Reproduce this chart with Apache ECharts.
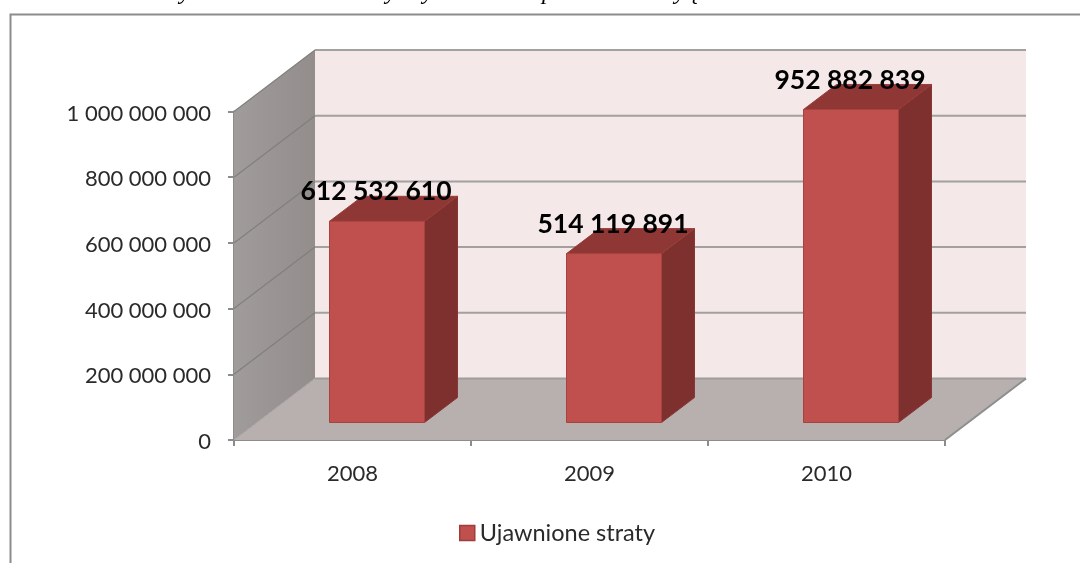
<!DOCTYPE html>
<html><head><meta charset="utf-8">
<style>html,body{margin:0;padding:0;background:#fff;overflow:hidden}#c{width:1080px;height:563px}</style>
<script src="https://cdn.jsdelivr.net/npm/echarts@6/dist/echarts.min.js"></script>
</head><body><div id="c"></div>
<script>
const years = ['2008', '2009', '2010'];
const losses = [612532610, 514119891, 952882839];
const yTicks = [0, 200000000, 400000000, 600000000, 800000000, 1000000000];
const seriesName = 'Ujawnione straty';
const cutOffGlyphs = [['y', 185], ['y', 391], ['y', 428], ['p', 548], ['y', 680], ['ę', 694]];

const FONT = 'Lato, "Open Sans", sans-serif';
const WALL = {dx: 81, dy: -61.5};
const BAR = {ox: 24.5, oy: -17.5, w: 95, dx: 33, dy: -25};
const fmt = v => String(v).replace(/\B(?=(\d{3})+$)/g, ' ');

function poly(points, fill, stroke, lineWidth) {
  return {type: 'polygon', shape: {points}, style: {fill, stroke: stroke || 'none', lineWidth: lineWidth || 0}};
}
function line(a, b, stroke, lineWidth) {
  return {type: 'line', shape: {x1: a[0], y1: a[1], x2: b[0], y2: b[1]}, style: {stroke, lineWidth}};
}

function renderRoom(params, api) {
  const cs = params.coordSys;
  const L = cs.x, R = cs.x + cs.width;
  const y0 = api.coord([0, 0])[1], yT = api.coord([0, 1000000000])[1];
  const d = WALL;
  const kids = [];
  kids.push(poly([[L + d.dx, yT + d.dy], [R + d.dx, yT + d.dy], [R + d.dx, y0 + d.dy], [L + d.dx, y0 + d.dy]], '#F4E8E8'));
  kids.push(poly([[L, yT], [L + d.dx, yT + d.dy], [L + d.dx, y0 + d.dy], [L, y0]], {
    type: 'linear', x: 0, y: 0, x2: 1, y2: 0,
    colorStops: [{offset: 0, color: '#A09C9B'}, {offset: 1, color: '#938D8C'}]
  }));
  kids.push(poly([[L, y0], [L + d.dx, y0 + d.dy], [R + d.dx, y0 + d.dy], [R, y0]], '#B8AFAF'));
  yTicks.forEach(t => {
    const y = api.coord([0, t])[1];
    if (t > 0) {
      kids.push(line([L, y], [L + d.dx, y + d.dy], '#80807B', 1.2));
      kids.push(line([L + d.dx, y + d.dy], [R + d.dx, y + d.dy], '#A3A0A0', 2));
    } else {
      kids.push(line([L, y], [L + d.dx, y + d.dy], '#A9A5A4', 1));
      kids.push(line([L + d.dx, y + d.dy], [R + d.dx, y + d.dy], '#A09C9C', 2));
      kids.push(line([R, y], [R + d.dx, y + d.dy], '#8E8E8E', 2));
    }
  });
  return {type: 'group', children: kids};
}

function renderBar(params, api) {
  const i = api.value(0), v = api.value(1);
  const base = api.coord([i, 0]), top = api.coord([i, v]);
  const cx = base[0] + BAR.ox;
  const l = cx - BAR.w / 2, r = cx + BAR.w / 2;
  const yb = base[1] + BAR.oy, yt = top[1] + BAR.oy;
  const {dx, dy} = BAR;
  return {type: 'group', children: [
    poly([[r, yt], [r + dx, yt + dy], [r + dx, yb + dy], [r, yb]], '#7D302E', '#8A3634', 1),
    poly([[l, yt], [l + dx, yt + dy], [r + dx, yt + dy], [r, yt]], '#8F3735', '#9A3D3A', 1),
    poly([[l, yt], [r, yt], [r, yb], [l, yb]], '#C0504D', '#A8423F', 1),
    {type: 'text', style: {text: fmt(v), x: cx - 1, y: yt - 29.5, align: 'center', verticalAlign: 'middle',
      font: 'bold 26.5px ' + FONT, fill: '#000'}}
  ]};
}

const chart = echarts.init(document.getElementById('c'), null, {renderer: 'canvas'});
chart.setOption({
  animation: false,
  backgroundColor: '#fff',
  textStyle: {fontFamily: FONT},
  grid: {left: 234, right: 135, top: 111.5, bottom: 123},
  xAxis: {
    type: 'category', data: years, boundaryGap: true,
    axisLine: {show: true, lineStyle: {color: '#8C8C8C', width: 2}},
    axisTick: {show: true, alignWithLabel: false, length: 6, lineStyle: {color: '#8C8C8C', width: 2}},
    axisLabel: {color: '#2A2A2A', fontSize: 22, margin: 23, fontFamily: FONT},
    splitLine: {show: false}
  },
  yAxis: {
    type: 'value', min: 0, max: 1000000000, interval: 200000000,
    axisLine: {show: true, lineStyle: {color: '#8C8C8C', width: 2}},
    axisTick: {show: true, length: 6, lineStyle: {color: '#8C8C8C', width: 2}},
    axisLabel: {color: '#2A2A2A', fontSize: 22, margin: 23, fontFamily: FONT, formatter: fmt, verticalAlign: 'top', lineHeight: 4},
    splitLine: {show: false}
  },
  legend: {
    left: 454, top: 516, icon: 'rect', itemWidth: 15, itemHeight: 15, itemGap: 5,
    data: [{name: seriesName, itemStyle: {color: '#C0504D', borderColor: '#A03C3A', borderWidth: 1.5}}],
    textStyle: {color: '#2A2A2A', fontSize: 23.5, fontFamily: FONT},
    selectedMode: false
  },
  graphic: [
    {type: 'polyline', silent: true, z: 0, shape: {points: [[10.5, 563], [10.5, 14.5], [1080, 14.5]]},
      style: {stroke: '#8C8C8C', fill: 'none', lineWidth: 2}},
    ...cutOffGlyphs.map(([t, x]) => ({type: 'text', silent: true, z: 0, x, y: -19,
      style: {text: t, font: 'italic 24px "Liberation Serif", serif', fill: '#000', align: 'center', verticalAlign: 'top'}}))
  ],
  series: [
    {type: 'custom', name: 'room', coordinateSystem: 'cartesian2d', clip: false, silent: true, z: 1,
      data: [[0, 0]], encode: {x: 0, y: 1}, renderItem: renderRoom},
    {type: 'custom', name: seriesName, coordinateSystem: 'cartesian2d', clip: false, silent: true, z: 3,
      itemStyle: {color: '#C0504D'},
      data: losses.map((v, i) => [i, v]), encode: {x: 0, y: 1}, renderItem: renderBar}
  ]
});
</script></body></html>
